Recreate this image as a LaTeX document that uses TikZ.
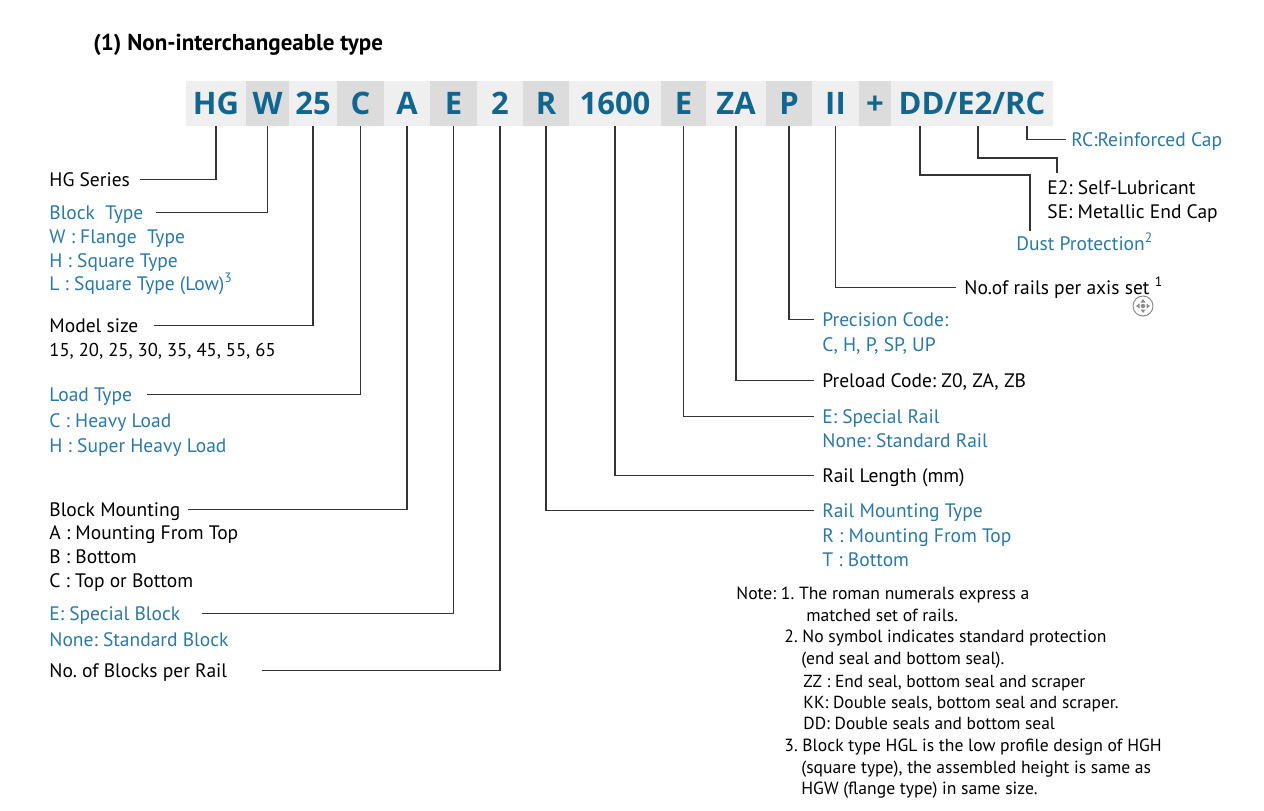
\documentclass[tikz,border=0pt]{standalone}
\usepackage{fontspec}
\frenchspacing
\newfontfamily\labfont{PT Sans}
\newfontfamily\codefont{Open Sans}
\definecolor{codeblue}{HTML}{10668F}
\definecolor{labblue}{HTML}{2A78A6}
\definecolor{cellL}{HTML}{EFEFEF}
\definecolor{cellD}{HTML}{DCDCDC}
\definecolor{connc}{HTML}{333333}
\tikzset{
  cellbase/.style={inner sep=0, minimum height=22.5pt, text=codeblue,
    font=\codefont\bfseries\fontsize{15.5}{18}\selectfont, text height=11pt, text depth=0pt},
  cl/.style={cellbase, fill=cellL},
  cd/.style={cellbase, fill=cellD},
  lab/.style={inner sep=0, anchor=base west, font=\labfont\fontsize{9.75}{12}\selectfont,
    text height=6.8pt, text depth=0pt},
  blab/.style={lab, text=labblue},
  klab/.style={lab, text=black},
  note/.style={inner sep=0, anchor=base west, font=\labfont\fontsize{8.8}{10}\selectfont},
  notes/.style={note, font=\labfont\fontsize{8.7}{10}\selectfont},
  conn/.style={draw=connc, line width=0.6pt},
}
\begin{document}
\begin{tikzpicture}[x=0.5pt,y=-0.5pt]
\useasboundingbox (0,0) rectangle (1264,810);
% title
\node[inner sep=0, anchor=base west, font=\labfont\bfseries\fontsize{11.5}{13}\selectfont] (title) at (93,50) {(1) Non-interchangeable type};
% code row
\node[cl, minimum width=30pt]   (cHG)  at (216,103.5)   {HG};
\node[cd, minimum width=21.5pt] (cW)   at (267.5,103.5) {W};
\node[cl, minimum width=24pt]   (c25)  at (313,103.5)   {25};
\node[cd, minimum width=23.5pt] (cC)   at (360.5,103.5) {C};
\node[cl, minimum width=23pt]   (cA)   at (407,103.5)   {A};
\node[cd, minimum width=23.5pt] (cE)   at (453.5,103.5) {E};
\node[cl, minimum width=23pt]   (c2)   at (500,103.5)   {2};
\node[cd, minimum width=23pt]   (cR)   at (546,103.5)   {R};
\node[cl, minimum width=46pt]   (cL)   at (615,103.5)   {1600};
\node[cd, minimum width=22.5pt] (cER)  at (683.5,103.5) {E};
\node[cl, minimum width=30pt]   (cZA)  at (736,103.5)   {ZA};
\node[cd, minimum width=23pt]   (cP)   at (789,103.5)   {P};
\node[cl, minimum width=23.5pt] (cII)  at (835.5,103.5) {II};
\node[cd, minimum width=16pt]   (cPl)  at (875,103.5)   {+};
\node[cl, minimum width=81pt]   (cDD)  at (972,103.5)   {DD/E2/RC};
\coordinate (tDD) at (920,126);
\coordinate (tE2) at (978,126);
\coordinate (tRC) at (1027,126);
% left labels
\node[klab] (lHG) at (49,186) {HG Series};
\node[blab] (lBT) at (49,219) {Block\ \ Type};
\node[blab] (lBT1) at (49,243) {W : Flange\ \ Type};
\node[blab] (lBT2) at (49,267) {H : Square Type};
\node[blab] (lBT3) at (49,290) {L : Square Type (Low)\textsuperscript{3}};
\node[klab] (lMS) at (49,332) {Model size};
\node[klab, font=\labfont\fontsize{9.3}{12}\selectfont] (lMS1) at (49,356) {15, 20, 25, 30, 35, 45, 55, 65};
\node[blab] (lLT) at (49,401) {Load Type};
\node[blab] (lLT1) at (49,427) {C : Heavy Load};
\node[blab] (lLT2) at (49,452) {H : Super Heavy Load};
\node[klab] (lBM) at (49,516) {Block Mounting};
\node[klab] (lBM1) at (49,539) {A : Mounting From Top};
\node[klab] (lBM2) at (49,563) {B : Bottom};
\node[klab] (lBM3) at (49,587) {C : Top or Bottom};
\node[blab] (lSB) at (49,620) {E: Special Block};
\node[blab] (lSB1) at (49,646) {None: Standard Block};
\node[klab] (lNB) at (49,677) {No. of Blocks per Rail};
\draw[conn] ([xshift=5pt]lHG.east) -| (cHG.south);
\draw[conn] ([xshift=6pt]lBT.east) -| (cW.south);
\draw[conn] ([xshift=7.5pt]lMS.east) -| (c25.south);
\draw[conn] ([xshift=7.5pt]lLT.east) -| (cC.south);
\draw[conn] ([xshift=3.5pt]lBM.east) -| (cA.south);
\draw[conn] ([xshift=10.5pt]lSB.east) -| (cE.south);
\draw[conn] ([xshift=17pt]lNB.east) -| (c2.south);
% right labels
\node[blab] (lRC) at (1071,146) {RC:Reinforced Cap};
\node[klab] (lE2) at (1047,194) {E2: Self-Lubricant};
\node[klab] (lSE) at (1047,218) {SE: Metallic End Cap};
\node[blab] (lDP) at (1016,250) {Dust Protection\textsuperscript{2}};
\node[klab] (lII) at (964,294) {No.of rails per axis set \textsuperscript{1}};
\node[blab] (lPC) at (822,326) {Precision Code:};
\node[blab] (lPC1) at (822,351) {C, H, P, SP, UP};
\node[klab] (lPL) at (822,387) {Preload Code: Z0, ZA, ZB};
\node[blab] (lSR) at (822,423) {E: Special Rail};
\node[blab] (lSR1) at (822,447) {None: Standard Rail};
\node[klab] (lRL) at (822,482) {Rail Length (mm)};
\node[blab] (lRM) at (822,517) {Rail Mounting Type};
\node[blab] (lRM1) at (822,542) {R : Mounting From Top};
\node[blab] (lRM2) at (822,566) {T : Bottom};
\coordinate (kE2) at (1057,158);
\coordinate (kDD) at (1030,175);
\draw[conn] (tRC) |- ([xshift=-2.5pt]lRC.west);
\draw[conn] (tE2) |- (kE2) -- ([yshift=3.5pt]kE2 |- lE2.north);
\draw[conn] (tDD) |- (kDD) -- ([yshift=2.5pt]kDD |- lDP.north);
\draw[conn] (cII.south) |- ([xshift=-4pt]lII.west);
\draw[conn] (cP.south) |- ([xshift=-4pt]lPC.west);
\draw[conn] (cZA.south) |- ([xshift=-4pt]lPL.west);
\draw[conn] (cER.south) |- ([xshift=-4pt]lSR.west);
\draw[conn] (cL.south) |- ([xshift=-4pt]lRL.west);
\draw[conn] (cR.south) |- ([xshift=-4pt]lRM.west);
% move icon
\begin{scope}[shift={(1143,306)}]
  \draw[black!45, line width=0.5pt] (0,0) circle[radius=5pt];
  \fill[black!45] (0,0) circle[radius=1.1pt];
  \fill[black!45] (0,-7) -- (-2.5,-3.5) -- (2.5,-3.5) -- cycle;
  \fill[black!45] (0,7) -- (-2.5,3.5) -- (2.5,3.5) -- cycle;
  \fill[black!45] (-7,0) -- (-3.5,-2.5) -- (-3.5,2.5) -- cycle;
  \fill[black!45] (7,0) -- (3.5,-2.5) -- (3.5,2.5) -- cycle;
\end{scope}
% notes
\node[note] (n1) at (736,599) {Note: 1. The roman numerals express a};
\node[note] (n1b) at (806,621) {matched set of rails.};
\node[note] (n2) at (784,642) {2. No symbol indicates standard protection};
\node[note] (n2b) at (801,664) {(end seal and bottom seal).};
\node[notes] (n2c) at (803,687) {ZZ : End seal, bottom seal and scraper};
\node[notes] (n2d) at (803,708) {KK: Double seals, bottom seal and scraper.};
\node[notes] (n2e) at (803,729) {DD: Double seals and bottom seal};
\node[note] (n3) at (784,751) {3. Block type HGL is the low profile design of HGH};
\node[note] (n3b) at (801,773) {(square type), the assembled height is same as};
\node[note] (n3c) at (801,794) {HGW (flange type) in same size.};
\end{tikzpicture}
\end{document}
